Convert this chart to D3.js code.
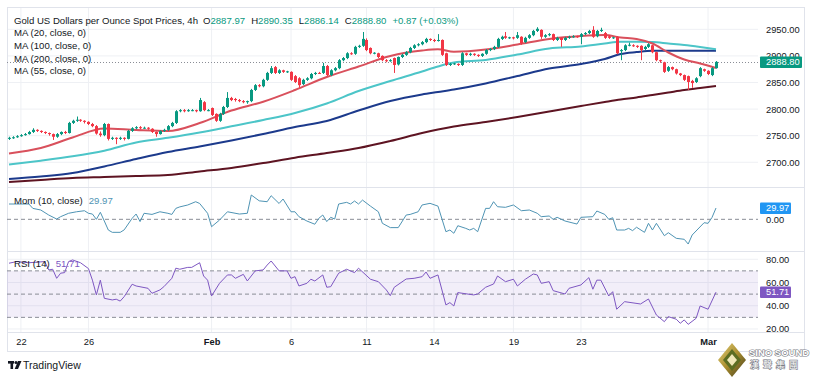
<!DOCTYPE html>
<html><head><meta charset="utf-8">
<script src="https://cdn.jsdelivr.net/npm/d3@7"></script>
<style>
html,body{margin:0;padding:0;background:#fff;}
svg{display:block;font-family:"Liberation Sans",Arial,sans-serif;}
</style></head><body>
<svg id="c" width="813" height="379"></svg>
<script>
// ---------------- DATA ----------------
const opens=[2744,2746,2747,2749,2751,2753,2757,2761,2759,2757,2755,2753,2748,2753,2757,2755,2774,2778,2780,2778,2776,2772,2768,2754,2751,2772,2744,2746,2744,2746,2744,2759,2764,2766,2764,2765,2763,2757,2753,2759,2761,2768,2774,2796,2798,2796,2798,2798,2796,2813,2798,2802,2791,2778,2791,2804,2821,2819,2817,2815,2813,2815,2836,2845,2843,2855,2868,2879,2868,2873,2870,2870,2862,2858,2847,2855,2858,2866,2868,2868,2881,2864,2873,2877,2892,2896,2905,2904,2917,2919,2930,2915,2905,2905,2900,2892,2890,2896,2884,2898,2902,2907,2915,2920,2922,2926,2932,2930,2928,2930,2905,2883,2885,2885,2883,2905,2902,2904,2902,2900,2904,2911,2913,2917,2932,2937,2934,2935,2934,2936,2926,2934,2939,2947,2949,2936,2939,2941,2930,2934,2930,2934,2936,2937,2936,2941,2943,2949,2937,2947,2943,2937,2934,2936,2909,2911,2920,2920,2919,2919,2913,2917,2920,2907,2892,2888,2872,2879,2875,2867,2864,2862,2853,2851,2862,2875,2872,2864,2877];
const highs=[2748,2749,2751,2753,2755,2759,2764,2762,2760,2758,2756,2754,2755,2758,2759,2776,2780,2786,2781,2779,2777,2774,2770,2758,2774,2773,2748,2747,2748,2747,2761,2766,2768,2768,2767,2766,2764,2758,2760,2763,2770,2776,2798,2800,2800,2800,2800,2799,2821,2815,2800,2803,2792,2793,2806,2832,2823,2821,2819,2817,2816,2838,2847,2847,2857,2870,2881,2881,2875,2874,2872,2871,2864,2860,2857,2860,2868,2870,2870,2887,2883,2875,2879,2894,2898,2907,2907,2919,2921,2945,2933,2916,2907,2906,2901,2894,2894,2897,2899,2904,2909,2917,2922,2924,2928,2934,2933,2932,2941,2931,2906,2887,2887,2886,2907,2906,2906,2905,2903,2905,2913,2915,2919,2934,2938,2945,2936,2936,2945,2937,2936,2941,2949,2954,2950,2941,2943,2942,2936,2935,2936,2938,2939,2938,2943,2945,2949,2956,2949,2953,2945,2939,2936,2937,2913,2922,2925,2922,2920,2920,2919,2924,2921,2908,2893,2889,2881,2880,2876,2868,2865,2863,2855,2860,2879,2876,2873,2879,2890.35];
const lows=[2742,2744,2746,2748,2750,2752,2755,2757,2755,2753,2750,2742,2746,2751,2753,2754,2772,2776,2776,2773,2770,2766,2752,2748,2749,2741,2742,2734,2742,2741,2743,2757,2762,2762,2763,2761,2755,2748,2752,2757,2759,2766,2772,2794,2794,2795,2796,2794,2795,2796,2796,2787,2776,2776,2789,2802,2815,2814,2813,2811,2810,2813,2834,2841,2841,2853,2866,2866,2866,2868,2868,2853,2849,2840,2845,2853,2856,2864,2866,2866,2862,2862,2871,2875,2890,2894,2902,2902,2915,2917,2909,2903,2903,2896,2890,2888,2889,2868,2882,2896,2900,2905,2913,2918,2920,2924,2928,2926,2927,2900,2881,2881,2883,2881,2881,2900,2900,2900,2898,2898,2902,2909,2911,2915,2930,2932,2932,2931,2932,2921,2924,2932,2937,2945,2932,2934,2937,2928,2928,2917,2928,2932,2934,2934,2922,2939,2941,2934,2935,2945,2932,2932,2932,2903,2892,2909,2918,2917,2915,2892,2911,2915,2905,2890,2887,2868,2870,2873,2865,2862,2853,2836,2840,2849,2860,2870,2864,2862,2876];
const closes=[2746,2747,2749,2751,2753,2757,2761,2759,2757,2755,2753,2748,2753,2757,2755,2774,2778,2780,2778,2776,2772,2768,2754,2751,2772,2744,2746,2744,2746,2744,2759,2764,2766,2764,2765,2763,2757,2753,2759,2761,2768,2774,2796,2798,2796,2798,2798,2796,2817,2798,2798,2789,2778,2791,2804,2821,2817,2817,2815,2813,2815,2836,2845,2843,2855,2868,2877,2868,2873,2870,2871,2855,2851,2845,2855,2858,2866,2868,2867,2881,2864,2873,2877,2892,2896,2905,2904,2917,2919,2932,2911,2905,2906,2898,2892,2890,2892,2883,2898,2902,2907,2915,2920,2922,2926,2932,2930,2928,2930,2902,2883,2885,2886,2883,2905,2902,2904,2902,2900,2904,2911,2913,2917,2932,2936,2934,2935,2933,2939,2924,2934,2939,2947,2951,2936,2939,2941,2930,2934,2930,2934,2936,2937,2936,2941,2943,2947,2936,2947,2949,2934,2934,2935,2905,2911,2920,2921,2919,2917,2911,2917,2922,2907,2892,2890,2870,2879,2875,2867,2864,2855,2851,2849,2858,2877,2872,2866,2877,2888.8];

const tickIdx=[3,20,51,71,90,107,127,144,176];
const tickLabels=["22","26","Feb","6","11","14","19","23","Mar"];
const boldTicks=["Feb","Mar"];

const maIdx=[0,8,16,24,32,40,48,56,64,72,80,88,96,104,108,112,120,128,136,144,150,154,158,162,166,170,174,178];
const ma20=[2716.5,2726.8,2746.6,2763.5,2760.7,2758.8,2773.8,2797.3,2813.9,2835.9,2860.3,2880.1,2899.8,2910.1,2912.4,2907.9,2912,2921.4,2931.8,2937.4,2939.3,2934.6,2931.8,2923.3,2906.4,2893.2,2885.7,2877.2];
const ma55=[2695.8,2703,2711.2,2721.8,2737.2,2746,2756,2767.6,2779.5,2792.6,2810.5,2834,2852.8,2870.7,2880.1,2887.6,2892.3,2902.6,2913.9,2917.7,2923.3,2926.7,2926.7,2926.1,2923.3,2920.5,2916.7,2912.4];
const ma100=[2668.6,2673.3,2679.8,2692.1,2706.2,2719.3,2729.7,2740.9,2753.2,2766.3,2777.6,2797.3,2815.2,2827.4,2832.1,2836.8,2848.1,2862.2,2876.3,2884.8,2894.2,2903.6,2907.3,2909.8,2909.8,2909.8,2909.8,2909.8];
const ma200=[2662.9,2666.7,2670.4,2672.3,2674.2,2676.1,2682.7,2689.2,2698.6,2708.6,2717.4,2726.8,2740,2755,2761.6,2767.3,2775.7,2785.1,2795.5,2805.8,2813.3,2818,2821.8,2826.5,2831.2,2835.9,2839.6,2843.4];

const momentum=[[0,40.6],[5,40.6],[6,29],[8,24.7],[10,11.4],[12,0.8],[13,7],[15,16],[17,20],[19,22.8],[20,16],[21,14],[22,0],[23,18.6],[24,-4.5],[25,-28.4],[26,-34.5],[28,-34.5],[29,-28],[31,2.6],[32,14],[33,-6],[34,16],[36,13],[38,20],[40,16],[41,13],[42,29],[43,33],[45,38],[47,46.7],[48,42],[50,16],[51,-19.6],[53,-2],[55,20],[58,14],[60,16],[61,64.5],[63,49],[65,46.7],[66,62.6],[68,42],[69,53.8],[71,20],[72,20],[73,7],[75,-4.5],[77,-13],[78,2.6],[79,11.4],[80,-6],[81,5.3],[82,0.8],[83,40.6],[85,45],[86,40.6],[87,48.5],[88,40.6],[89,51],[91,35],[93,20],[94,-10.6],[96,-22],[98,-22],[100,11.4],[101,13],[103,20],[104,38],[106,42.4],[108,35],[110,-32.8],[111,-28.4],[112,-37],[113,-17],[115,-24],[116,-28.4],[117,-24],[118,-32.8],[120,29],[121,29],[122,46.7],[123,33.4],[125,31.8],[127,38],[129,22.8],[131,24.7],[133,16],[134,7],[136,8.8],[137,0],[138,5.3],[140,-4.5],[143,-12.5],[144,5.3],[147,7],[148,22],[150,13],[151,0],[152,4.2],[153,-28.4],[155,-28.4],[156,-24],[157,-30],[158,-21],[160,-34.5],[161,-10.6],[162,-28.4],[163,-10.6],[165,-43.5],[166,-35.5],[168,-50.4],[170,-53],[171,-65.5],[172,-41.6],[175,-9],[176,-10.6],[177,5],[178,29.97]];

const rsi=[[0,76.6],[2,78],[5,77],[9,78],[10,70.8],[11,71.4],[12,63.6],[13,68],[14,68.5],[15,78],[16,79.4],[18,77],[20,72],[21,62],[22,49.3],[23,62],[24,46.4],[26,45],[27,45.6],[28,44],[29,47.8],[31,58.5],[32,57],[35,55],[36,50.7],[38,53.6],[39,56.4],[41,63.6],[42,72.3],[43,71.4],[45,73],[46,73],[48,77],[49,65.6],[50,62],[51,48.4],[53,59.3],[55,66.5],[56,66.5],[57,63.6],[59,67],[60,61.3],[62,70],[64,70.8],[65,75],[66,78.5],[68,70],[70,70],[71,63.6],[72,65],[73,57],[75,59.3],[76,62.8],[77,61.3],[79,66.5],[80,55.9],[81,56.4],[83,68],[85,71.4],[87,68.5],[88,72.3],[91,62.8],[93,60.7],[95,53.6],[96,48.7],[97,55.9],[100,63],[102,63.6],[104,65],[105,69],[106,63.6],[108,66.5],[110,40.7],[111,42.7],[112,39.8],[113,51.3],[117,49.3],[118,50.1],[120,55.9],[122,58.7],[123,65.6],[125,60.7],[127,62.8],[128,57],[130,62.8],[132,67.3],[133,66.5],[134,59.3],[136,60.7],[137,53],[140,50.1],[141,55],[144,57.9],[146,64.2],[147,54.2],[148,62],[149,62],[151,48.4],[152,52.1],[153,37],[155,43.5],[159,41.5],[161,45.8],[163,32],[165,26.3],[166,30.6],[168,28.4],[169,24.9],[170,27.8],[171,24],[173,29.2],[174,39.8],[176,37],[178,51.71]];

const priceTicks=[2700,2750,2800,2850,2900,2950];
const momTicks=[0];
const rsiTicks=[20,40,60,80];
const rsiBands=[70,50,30];
const lastPrice=2888.80, lastMom=29.97, lastRsi=51.71;

const legendTitle="Gold US Dollars per Ounce Spot Prices, 4h";
const ohlcLetters=["O","H","L","C"];
const ohlcValues=["2887.97","2890.35","2886.14","2888.80"];
const changeText="+0.87 (+0.03%)";
const maLabels=["MA (20, close, 0)","MA (100, close, 0)","MA (200, close, 0)","MA (55, close, 0)"];
const momLabel="Mom (10, close)", rsiLabel="RSI (14)";

// ---------------- LAYOUT ----------------
const C={up:"#089981",down:"#F23645",text:"#131722",grid:"#eef0f4",border:"#e0e3eb",
  ma20:"#d9505c",ma55:"#4cc5c8",ma100:"#1c3a8c",ma200:"#5e1422",mom:"#4f94b4",rsi:"#7e57c2"};
const FS=9.6, AFS=9.3;
const L=7,R=805,PR=758;
const T1=7,B1=187,B2=251,B3=332,B4=352;
const svg=d3.select("#c");
svg.append("rect").attr("width",813).attr("height",379).attr("fill","#fff");

const x=d3.scaleLinear().domain([0,178]).range([9,716]);
const yP=d3.scaleLinear().domain([2653.5,2992]).range([B1,T1]);
const yM=d3.scaleLinear().domain([-84,85.7]).range([B2,B1]);
const yR=d3.scaleLinear().domain([17.4,87.1]).range([B3,B2]);

const defs=svg.append("defs");
[["c1",T1,B1],["c2",B1,B2],["c3",B2,B3]].forEach(([id,a,b])=>{
  defs.append("clipPath").attr("id",id).append("rect").attr("x",L).attr("y",a).attr("width",PR-L).attr("height",b-a);
});

// grid
const grid=svg.append("g");
grid.selectAll(".vg").data(tickIdx).join("line").attr("x1",d=>x(d)).attr("x2",d=>x(d)).attr("y1",T1).attr("y2",B3).attr("stroke",C.grid);
grid.selectAll(".hg").data(priceTicks).join("line").attr("x1",L).attr("x2",PR).attr("y1",d=>yP(d)).attr("y2",d=>yP(d)).attr("stroke",C.grid);
grid.selectAll(".rg").data(rsiTicks).join("line").attr("x1",L).attr("x2",PR).attr("y1",d=>yR(d)).attr("y2",d=>yR(d)).attr("stroke",C.grid);

// frame
const fr=svg.append("g").attr("stroke",C.border).attr("fill","none");
fr.append("rect").attr("x",L+0.5).attr("y",T1+0.5).attr("width",R-L-1).attr("height",B4-T1-1);
[B1,B2,B3].forEach(v=>fr.append("line").attr("x1",L).attr("x2",R).attr("y1",v+0.5).attr("y2",v+0.5));

// RSI band
svg.append("rect").attr("x",L).attr("width",PR-L).attr("y",yR(70)).attr("height",yR(30)-yR(70)).attr("fill","rgba(126,87,194,0.1)");
svg.selectAll(".rb").data(rsiBands).join("line").attr("x1",L).attr("x2",PR).attr("y1",d=>yR(d)).attr("y2",d=>yR(d))
  .attr("stroke","#8a8d96").attr("stroke-dasharray","4,3");
svg.append("line").attr("x1",L).attr("x2",PR).attr("y1",yM(0)).attr("y2",yM(0)).attr("stroke","#8a8d96").attr("stroke-dasharray","4,3");

// current price line
svg.append("line").attr("x1",L).attr("x2",PR+2).attr("y1",Math.round(yP(lastPrice))+0.5).attr("y2",Math.round(yP(lastPrice))+0.5)
  .attr("stroke","#8a8d96").attr("stroke-dasharray","1,2");

// MAs
const gMain=svg.append("g").attr("clip-path","url(#c1)");
const mkLine=(arr)=>d3.line().x((d,i)=>x(maIdx[i])).y(d=>yP(d)).curve(d3.curveMonotoneX)(arr);
[[ma200,C.ma200],[ma100,C.ma100],[ma55,C.ma55],[ma20,C.ma20]].forEach(([a,c])=>{
  gMain.append("path").attr("d",mkLine(a)).attr("fill","none").attr("stroke",c).attr("stroke-width",2);
});

// candles
const idx=d3.range(closes.length);
const cg=gMain.append("g");
cg.selectAll(".w").data(idx).join("line")
  .attr("x1",i=>Math.round(x(i))+0.5).attr("x2",i=>Math.round(x(i))+0.5)
  .attr("y1",i=>yP(highs[i])).attr("y2",i=>yP(lows[i]))
  .attr("stroke",i=>closes[i]>=opens[i]?C.up:C.down).attr("stroke-width",1);
cg.selectAll(".b").data(idx).join("rect")
  .attr("x",i=>Math.round(x(i))-1).attr("width",3)
  .attr("y",i=>yP(Math.max(opens[i],closes[i])))
  .attr("height",i=>Math.max(1,Math.abs(yP(opens[i])-yP(closes[i]))))
  .attr("fill",i=>closes[i]>=opens[i]?C.up:C.down);

// Momentum
svg.append("g").attr("clip-path","url(#c2)").append("path")
  .attr("d",d3.line().x(d=>x(d[0])).y(d=>yM(d[1]))(momentum))
  .attr("fill","none").attr("stroke",C.mom).attr("stroke-width",1);
// RSI
svg.append("g").attr("clip-path","url(#c3)").append("path")
  .attr("d",d3.line().x(d=>x(d[0])).y(d=>yR(d[1]))(rsi))
  .attr("fill","none").attr("stroke",C.rsi).attr("stroke-width",1);

// axes
function styleAxis(g){
  g.select(".domain").remove();
  g.selectAll("text").attr("font-size",AFS).attr("fill",C.text).attr("font-family","Liberation Sans, Arial, sans-serif");
}
const fmt=d3.format(".2f");
svg.append("g").attr("transform","translate(762,0)").call(d3.axisRight(yP).tickValues(priceTicks).tickFormat(fmt).tickSize(0).tickPadding(4)).call(styleAxis);
svg.append("g").attr("transform","translate(762,0)").call(d3.axisRight(yM).tickValues(momTicks).tickFormat(fmt).tickSize(0).tickPadding(4)).call(styleAxis);
svg.append("g").attr("transform","translate(762,0)").call(d3.axisRight(yR).tickValues(rsiTicks).tickFormat(fmt).tickSize(0).tickPadding(4)).call(styleAxis);
const gx=svg.append("g").attr("transform","translate(0,338)")
  .call(d3.axisBottom(x).tickValues(tickIdx).tickFormat((d,i)=>tickLabels[i]).tickSize(0).tickPadding(0)).call(styleAxis);
gx.selectAll("text").attr("font-weight",(d,i)=>boldTicks.includes(tickLabels[i])?"bold":"normal");

// value boxes on axis
function box(yv,txt,col,w){
  const yy=Math.round(yv);
  svg.append("rect").attr("x",760).attr("y",yy-5.5).attr("width",w).attr("height",11.5).attr("fill",col).attr("rx",1);
  svg.append("text").attr("x",766).attr("y",yy).attr("dy","0.35em").attr("font-size",AFS).attr("fill","#fff").text(txt);
}
box(yP(lastPrice),fmt(lastPrice),C.up,42);
box(yM(lastMom),fmt(lastMom),"#2196f3",31);
box(yR(lastRsi),fmt(lastRsi),C.rsi,31);

// legends
function seq(yb,x0,parts){
  let xx=x0;
  parts.forEach(p=>{
    if(p.gap){xx+=p.gap;return;}
    const t=svg.append("text").attr("x",xx).attr("y",yb).attr("font-size",FS).attr("fill",p.c).text(p.t);
    xx+=t.node().getComputedTextLength();
  });
}
const hdr=[{t:legendTitle,c:C.text},{gap:5}];
ohlcLetters.forEach((l,i)=>{hdr.push({t:l,c:C.text});hdr.push({t:ohlcValues[i],c:C.up});hdr.push({gap:6});});
hdr.push({t:changeText,c:C.up});
seq(23.5,14,hdr);
maLabels.forEach((m,i)=>svg.append("text").attr("x",14).attr("y",36.3+i*12.6).attr("font-size",FS).attr("fill",C.text).text(m));
seq(203.5,14,[{t:momLabel,c:C.text},{gap:6},{t:fmt(lastMom),c:C.mom}]);
seq(266.5,14,[{t:rsiLabel,c:C.text},{gap:6},{t:fmt(lastRsi),c:C.rsi}]);

// TradingView logo
const tv=svg.append("g").attr("fill",C.text);
tv.append("rect").attr("x",8).attr("y",361).attr("width",6).attr("height",2.6);
tv.append("rect").attr("x",10.5).attr("y",361).attr("width",2.6).attr("height",8);
tv.append("circle").attr("cx",16).attr("cy",362.4).attr("r",1.5);
tv.append("polygon").attr("points","18,361 21.5,361 18,369 14.7,369");
svg.append("text").attr("x",23).attr("y",369).attr("font-size",10.5).attr("fill",C.text).text("TradingView");

// SINO SOUND logo
const lg=svg.append("g");
const grad=defs.append("linearGradient").attr("id","gold").attr("x1","0").attr("y1","0").attr("x2","1").attr("y2","1");
grad.append("stop").attr("offset","0").attr("stop-color","#e3cf7a");
grad.append("stop").attr("offset","0.5").attr("stop-color","#a98d2e");
grad.append("stop").attr("offset","1").attr("stop-color","#3f3a1c");
lg.append("polygon").attr("points","732,343 746,360 732,377 718,360").attr("fill","url(#gold)");
lg.append("polygon").attr("points","732,349 741,360 732,371 723,360").attr("fill","#5c6d22");
lg.append("polygon").attr("points","732,354 737,360 732,366 727,360").attr("fill","#f0e7b8");
lg.append("text").attr("x",749).attr("y",356).attr("font-size",9.5).attr("font-weight","bold")
  .attr("fill","#fff").attr("stroke","#7d8088").attr("stroke-width",1.2).attr("paint-order","stroke").text("SINO SOUND");
lg.append("text").attr("x",750).attr("y",368).attr("font-size",9).attr("font-family","Noto Sans CJK TC")
  .attr("fill","#fff").attr("stroke","#7d8088").attr("stroke-width",1.2).attr("paint-order","stroke").attr("letter-spacing",4).text("漢聲集團");
</script>
</body></html>
